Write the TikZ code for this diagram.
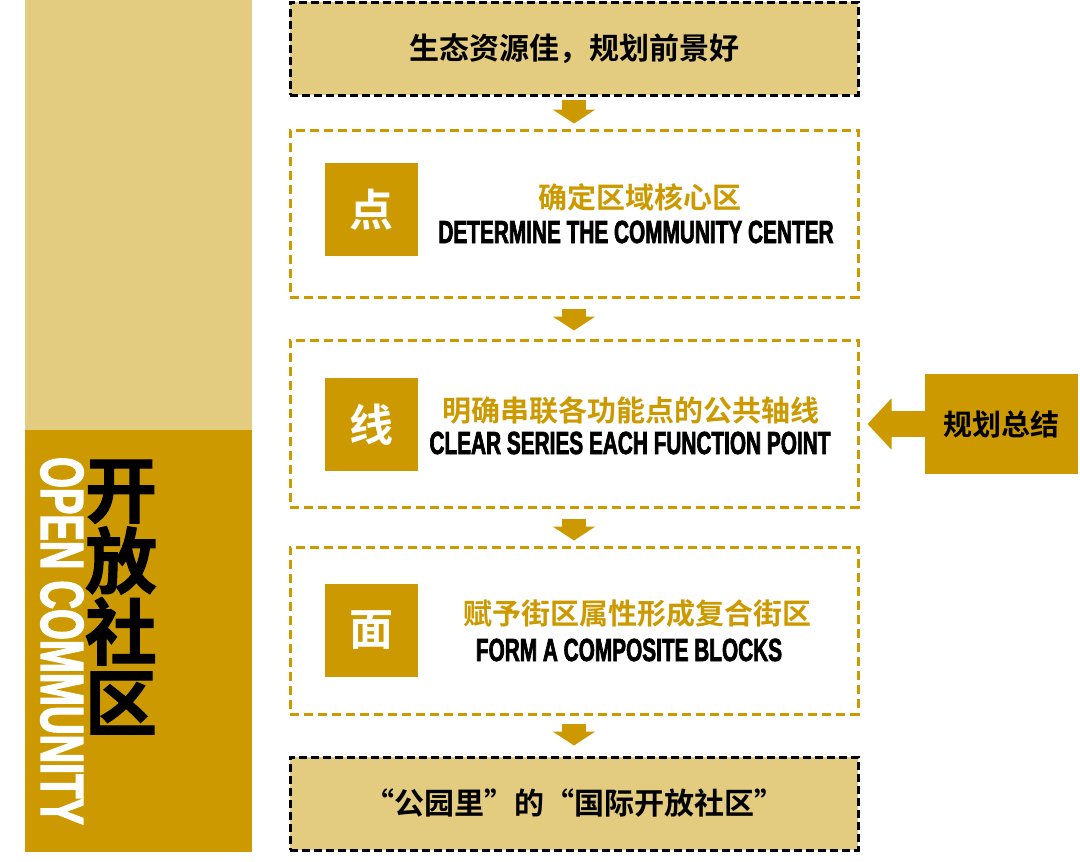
\documentclass[tikz,border=0pt]{standalone}
\usepackage{fontspec}
\usepackage{xcolor}
\usetikzlibrary{arrows.meta}
\newfontfamily\cjk{Noto Sans CJK SC Bold}
\newfontfamily\cjkheavy[FakeBold=1.5]{Noto Sans CJK SC Bold}
\newfontfamily\condfont[FakeStretch=0.65,FakeBold=2]{Liberation Sans Bold}
\definecolor{gold}{HTML}{CC9A00}
\definecolor{lightgold}{HTML}{E3CB80}

\begin{document}
\begin{tikzpicture}[x=1pt,y=-1pt,
    endbox/.style={draw=black,line width=3pt,dash pattern=on 8pt off 4pt,fill=lightgold,
      minimum width=568pt,minimum height=93pt,font=\cjk\fontsize{30}{30}\selectfont},
    stagebox/.style={draw=gold,line width=3pt,dash pattern=on 9pt off 5pt,fill=white,
      minimum width=568pt,minimum height=167pt},
    tag/.style={fill=gold,text=white,minimum width=93pt,minimum height=93pt,
      inner sep=0pt,font=\cjk\fontsize{44}{44}\selectfont},
    cntext/.style={text=gold,inner sep=0pt,font=\cjk\fontsize{29}{29}\selectfont},
    entext/.style={inner sep=0pt,font=\condfont\fontsize{32}{32}\selectfont},
    downarrow/.style={gold,line width=24pt,-{Triangle[length=14pt,width=42pt]}}]
    \useasboundingbox (0,0) rectangle (1080,862);
    \fill[lightgold] (25,0) rectangle (252,430);
    \fill[gold] (25,430) rectangle (252,852);
    \node[align=center,inner sep=0pt,font=\cjkheavy\fontsize{72}{71}\selectfont] (title) at (121,597) {开\\放\\社\\区};
    \node[rotate=-90,text=white,inner sep=0pt,font=\condfont\fontsize{61}{61}\selectfont] (subtitle) at (62,641) {OPEN COMMUNITY};

    \node[endbox] (start) at (574,48.5) {生态资源佳，规划前景好};
    \node[stagebox] (dian) at (574,213.5) {};
    \node[stagebox] (xian) at (574,423.5) {};
    \node[stagebox] (mian) at (574,630.5) {};
    \node[endbox] (goal) at (574,803.5) {“公园里”的“国际开放社区”};

    \node[tag] (dtag) at (371.5,209.5) {点};
    \node[tag] (xtag) at (371.5,424.5) {线};
    \node[tag] (mtag) at (371.5,630) {面};
    \node[cntext] (dcn) at (640,197) {确定区域核心区};
    \node[entext] (den) at (636,232) {DETERMINE THE COMMUNITY CENTER};
    \node[cntext] (xcn) at (631,410) {明确串联各功能点的公共轴线};
    \node[entext] (xen) at (630,443) {CLEAR SERIES EACH FUNCTION POINT};
    \node[cntext] (mcn) at (637,614) {赋予街区属性形成复合街区};
    \node[entext] (men) at (629,650) {FORM A COMPOSITE BLOCKS};

    \node[fill=gold,minimum width=153pt,minimum height=100pt,font=\cjk\fontsize{29}{29}\selectfont] (summary) at (1001.5,424) {规划总结};

    \draw[downarrow] ([yshift=-3pt]start.south) -- ([yshift=5pt]dian.north);
    \draw[downarrow] ([yshift=-10pt]dian.south) -- ([yshift=8pt]xian.north);
    \draw[downarrow] ([yshift=-10pt]xian.south) -- ([yshift=5pt]mian.north);
    \draw[downarrow] ([yshift=-8pt]mian.south) -- ([yshift=10pt]goal.north);
    \draw[gold,line width=26pt,-{Triangle[length=24pt,width=50pt]}] (summary.west) -- ([xshift=8pt]xian.east |- summary.west);
\end{tikzpicture}
\end{document}
